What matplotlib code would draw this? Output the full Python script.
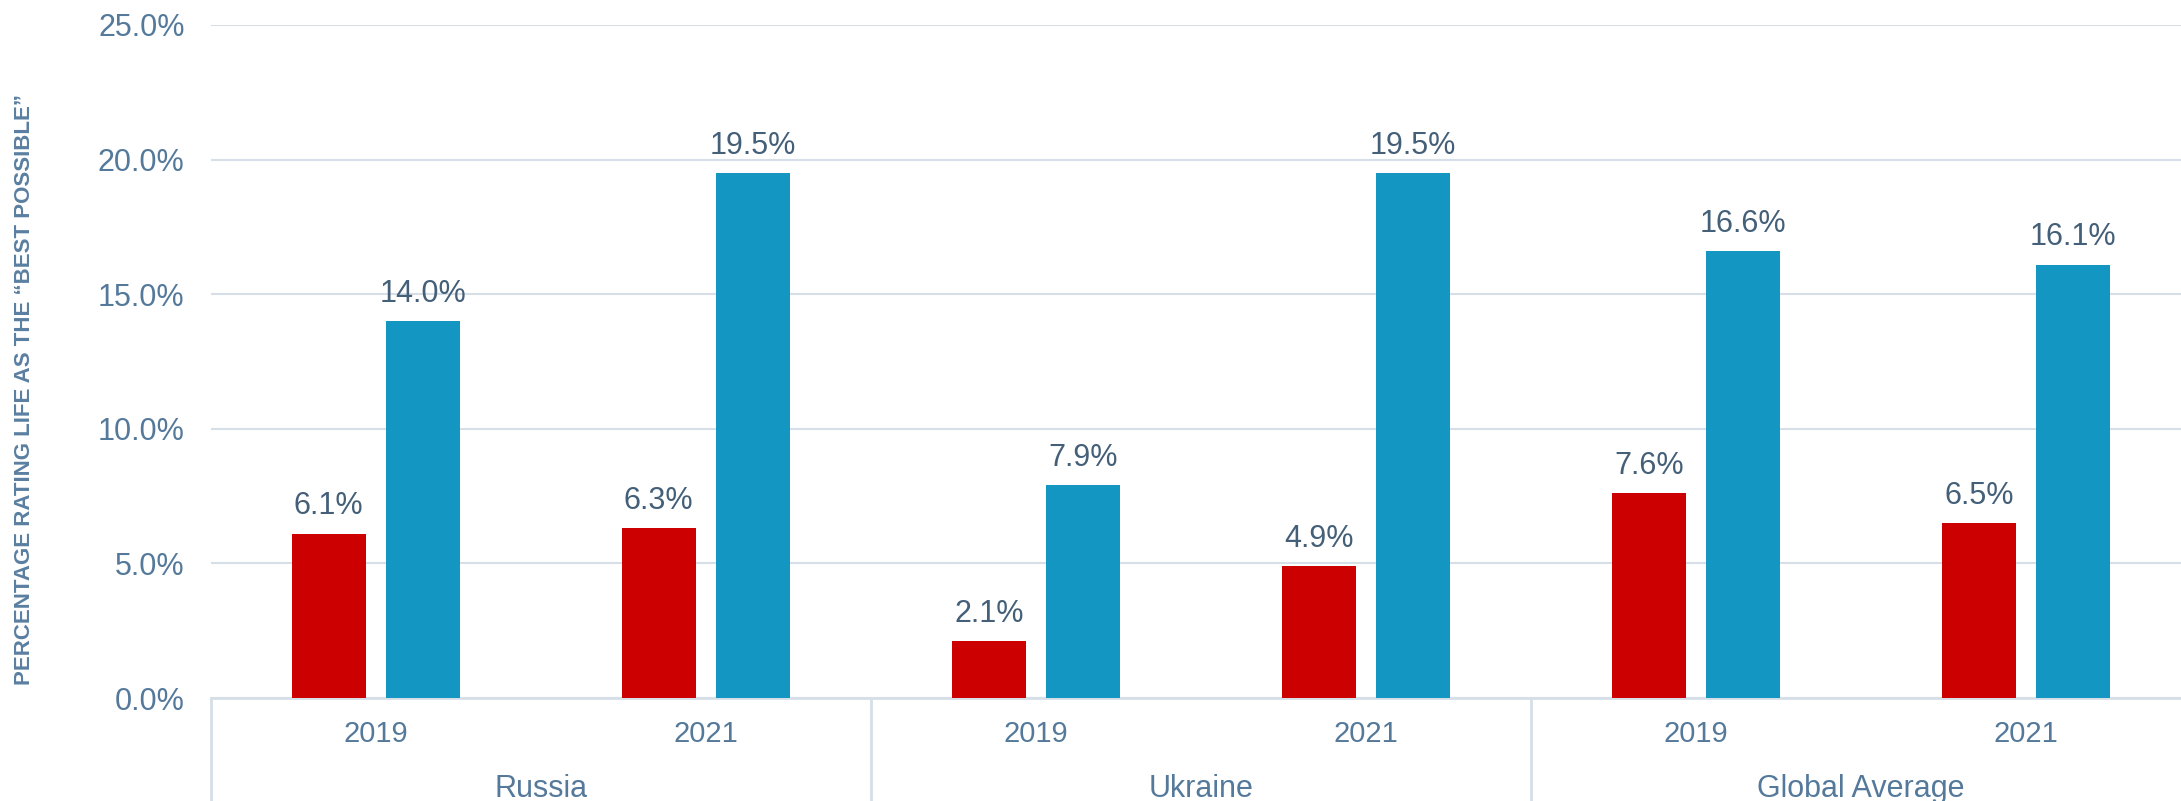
import matplotlib.pyplot as plt
import matplotlib.transforms as mtransforms
import numpy as np

# data
countries = ["Russia", "Ukraine", "Global Average"]
years = ["2019", "2021"]
red_vals = [6.1, 6.3, 2.1, 4.9, 7.6, 6.5]
blue_vals = [14.0, 19.5, 7.9, 19.5, 16.6, 16.1]
y_ticks = [0, 5, 10, 15, 20, 25]

RED = "#CC0000"
BLUE = "#1396C2"
TICK_COLOR = "#54799A"
LABEL_COLOR = "#445F78"
GRID_COLOR = "#D6DFE7"
NARROW = ["Liberation Sans Narrow", "Liberation Sans", "DejaVu Sans"]

plt.rcParams["font.family"] = ["Liberation Sans", "DejaVu Sans"]

fig = plt.figure(figsize=(21.81, 8.01), dpi=100)
ax = fig.add_axes([211 / 2181, 103 / 801, 1980 / 2181, 673 / 801])

x = np.arange(len(red_vals))
offset = 0.143
width = 0.224
bars_r = ax.bar(x - offset, red_vals, width, color=RED, zorder=3)
bars_b = ax.bar(x + offset, blue_vals, width, color=BLUE, zorder=3)

for bars in (bars_r, bars_b):
    ax.bar_label(bars, fmt="%.1f%%", padding=9, fontsize=22, color=LABEL_COLOR)

ax.set_xlim(-0.5, len(red_vals) - 0.5)
ax.set_ylim(0, 25)
ax.set_yticks(y_ticks)
ax.set_yticklabels([f"{v:.1f}%" for v in y_ticks])
ax.tick_params(axis="y", length=0, pad=19, labelsize=22, labelcolor=TICK_COLOR)
ax.grid(axis="y", color=GRID_COLOR, linewidth=1.5, zorder=0)

ax.set_xticks(x)
ax.set_xticklabels(years * len(countries), family=NARROW)
ax.tick_params(axis="x", length=0, pad=16, labelsize=21, labelcolor=TICK_COLOR)

for side in ("left", "right", "top"):
    ax.spines[side].set_visible(False)
ax.spines["bottom"].set_color(GRID_COLOR)
ax.spines["bottom"].set_linewidth(2)

# group separators and country labels
trans = mtransforms.blended_transform_factory(ax.transData, ax.transAxes)
for i, name in enumerate(countries):
    left = 2 * i - 0.5
    ax.plot([left, left], [0, -0.2], transform=trans, color=GRID_COLOR,
            linewidth=2, clip_on=False)
    ax.text(2 * i + 0.5, -0.147, name, transform=trans, ha="center", va="baseline",
            fontsize=22, color=TICK_COLOR, family=NARROW)

fig.text(25 / 2181, 0.514, "PERCENTAGE RATING LIFE AS THE \u201cBEST POSSIBLE\u201d",
         rotation=90, ha="center", va="center", fontsize=16, fontweight="bold",
         color="#5A7FA0", family=NARROW)

fig.savefig("out.png", dpi=100)
